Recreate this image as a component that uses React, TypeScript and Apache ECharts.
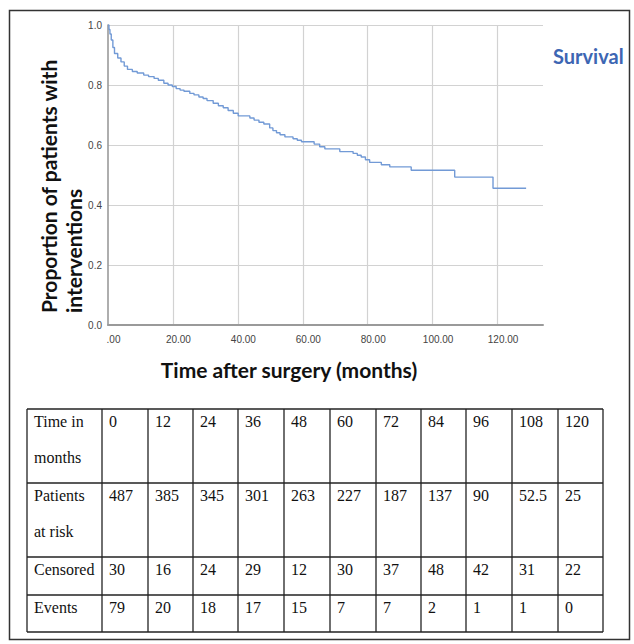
import React, { useEffect, useRef } from "react";
import * as echarts from "echarts";

// Kaplan-Meier curve
const curveMonths = [
  0, 0.3, 0.6, 1, 1.5, 2, 3, 4, 5, 6, 7.5, 9, 11, 12.5, 14.2, 15.5, 17.2, 18.5, 19.8, 21, 22.2, 23.4,
  25.2, 26.5, 28, 29.3, 30.5, 32.4, 34, 35.5, 37, 38.6, 40.1, 43.7, 45, 46.5, 48, 49.8, 50.8, 51.9, 53,
  54.5, 57, 58.3, 59.6, 63.5, 65.2, 66.8, 71.4, 75.5, 76.8, 78, 79.3, 80.6, 84.2, 86.8, 93.4, 106.8,
  118.6, 128.8,
];
const curveSurvival = [
  1, 0.985, 0.97, 0.95, 0.925, 0.905, 0.89, 0.877, 0.863, 0.852, 0.845, 0.84, 0.833, 0.828, 0.822,
  0.816, 0.806, 0.8, 0.795, 0.788, 0.783, 0.779, 0.772, 0.767, 0.76, 0.755, 0.748, 0.739, 0.731, 0.724,
  0.715, 0.706, 0.697, 0.69, 0.683, 0.676, 0.67, 0.657, 0.648, 0.641, 0.634, 0.627, 0.621, 0.616,
  0.611, 0.603, 0.594, 0.587, 0.578, 0.572, 0.566, 0.56, 0.551, 0.542, 0.534, 0.527, 0.516, 0.493,
  0.456, 0.456,
];

// Table
const rowLabels = [["Time in", "months"], ["Patients", "at risk"], ["Censored"], ["Events"]];
const tableTimes = [0, 12, 24, 36, 48, 60, 72, 84, 96, 108, 120];
const atRisk = [487, 385, 345, 301, 263, 227, 187, 137, 90, 52.5, 25];
const censored = [30, 16, 24, 29, 12, 30, 37, 48, 42, 31, 22];
const events = [79, 20, 18, 17, 15, 7, 7, 2, 1, 1, 0];

// layout of the table grid
const colX = [27, 102, 148, 193, 238, 284, 330, 376, 421, 466, 512, 558, 603];
const rowY = [409, 483, 557, 595, 632];

export default function App() {
  const ref = useRef<HTMLDivElement>(null);
  useEffect(() => {
    if (!ref.current) return;
    const chart = echarts.init(ref.current, null, { renderer: "svg" });

    const tableRows = [tableTimes, atRisk, censored, events];
    const tableChildren: any[] = [];
    colX.forEach((x) =>
      tableChildren.push({
        type: "line",
        shape: { x1: x, y1: rowY[0], x2: x, y2: rowY[rowY.length - 1] },
        style: { stroke: "#222", lineWidth: 1.3 },
      })
    );
    rowY.forEach((y) =>
      tableChildren.push({
        type: "line",
        shape: { x1: colX[0], y1: y, x2: colX[colX.length - 1], y2: y },
        style: { stroke: "#222", lineWidth: 1.3 },
      })
    );
    const tableFont = {
      fontFamily: "Liberation Serif",
      fontSize: 16,
      fill: "#111",
      align: "left" as const,
      verticalAlign: "middle" as const,
    };
    rowLabels.forEach((lines, r) => {
      lines.forEach((t, li) =>
        tableChildren.push({
          type: "text",
          x: colX[0] + 7,
          y: rowY[r] + 12.5 + li * 36,
          style: { ...tableFont, text: t },
        })
      );
      tableRows[r].forEach((v, c) =>
        tableChildren.push({
          type: "text",
          x: colX[c + 1] + 7,
          y: rowY[r] + 12.5,
          style: { ...tableFont, text: String(v) },
        })
      );
    });

    const option: any = {
      animation: false,
      grid: { left: 108, top: 25, width: 435, height: 300, containLabel: false },
      legend: {
        data: ["Survival"],
        left: 543,
        top: 41,
        icon: "none",
        itemWidth: 0,
        textStyle: { color: "#3d66b3", fontWeight: "bold", fontSize: 20, fontFamily: "Lato" },
      },
      xAxis: {
        type: "value",
        min: 0,
        max: 134,
        interval: 20,
        axisLine: { show: true, lineStyle: { color: "#9a9a9a", width: 2 } },
        axisTick: { show: false },
        axisLabel: {
          color: "#444",
          fontSize: 10,
          fontFamily: "Liberation Sans",
          margin: 9,
          padding: [0, 0, 0, 11],
          showMaxLabel: false,
          formatter: (v: number) => (v % 20 !== 0 ? "" : v === 0 ? ".00" : v.toFixed(2)),
        },
        splitLine: { show: true, showMinLine: false, showMaxLine: false, lineStyle: { color: "#d2d2d2", width: 1.2 } },
      },
      yAxis: {
        type: "value",
        min: 0,
        max: 1,
        interval: 0.2,
        axisLine: { show: true, lineStyle: { color: "#9a9a9a", width: 1.6 } },
        axisTick: { show: false },
        axisLabel: {
          color: "#444",
          fontSize: 10,
          fontFamily: "Liberation Sans",
          margin: 6,
          formatter: (v: number) => v.toFixed(1),
        },
        splitLine: { show: true, lineStyle: { color: "#d2d2d2", width: 1.2 } },
      },
      series: [
        {
          name: "Survival",
          type: "line",
          step: "end",
          showSymbol: false,
          symbol: "none",
          data: curveMonths.map((m, i) => [m, curveSurvival[i]]),
          lineStyle: { color: "#729ad6", width: 1.4 },
          itemStyle: { color: "#729ad6" },
        },
      ],
      graphic: [
        {
          type: "rect",
          shape: { x: 9.5, y: 10.5, width: 620, height: 629 },
          style: { fill: "none", stroke: "#333", lineWidth: 1.5 },
          silent: true,
        },
        {
          type: "text",
          x: 61,
          y: 313,
          rotation: Math.PI / 2,
          style: {
            text: "Proportion of patients with\ninterventions",
            fontFamily: "Lato",
            fontWeight: "bold",
            fontSize: 21,
            lineHeight: 25,
            fill: "#111",
            align: "left",
            verticalAlign: "middle",
          },
        },
        {
          type: "text",
          x: 289,
          y: 369,
          style: {
            text: "Time after surgery (months)",
            fontFamily: "Lato",
            fontWeight: "bold",
            fontSize: 21,
            fill: "#111",
            align: "center",
            verticalAlign: "middle",
          },
        },
        { type: "group", children: tableChildren },
      ],
    };
    chart.setOption(option);
    return () => chart.dispose();
  }, []);
  return (
    <div
      ref={ref}
      style={{ position: "absolute", left: 0, top: 0, width: 634, height: 644, background: "#fff" }}
    />
  );
}
